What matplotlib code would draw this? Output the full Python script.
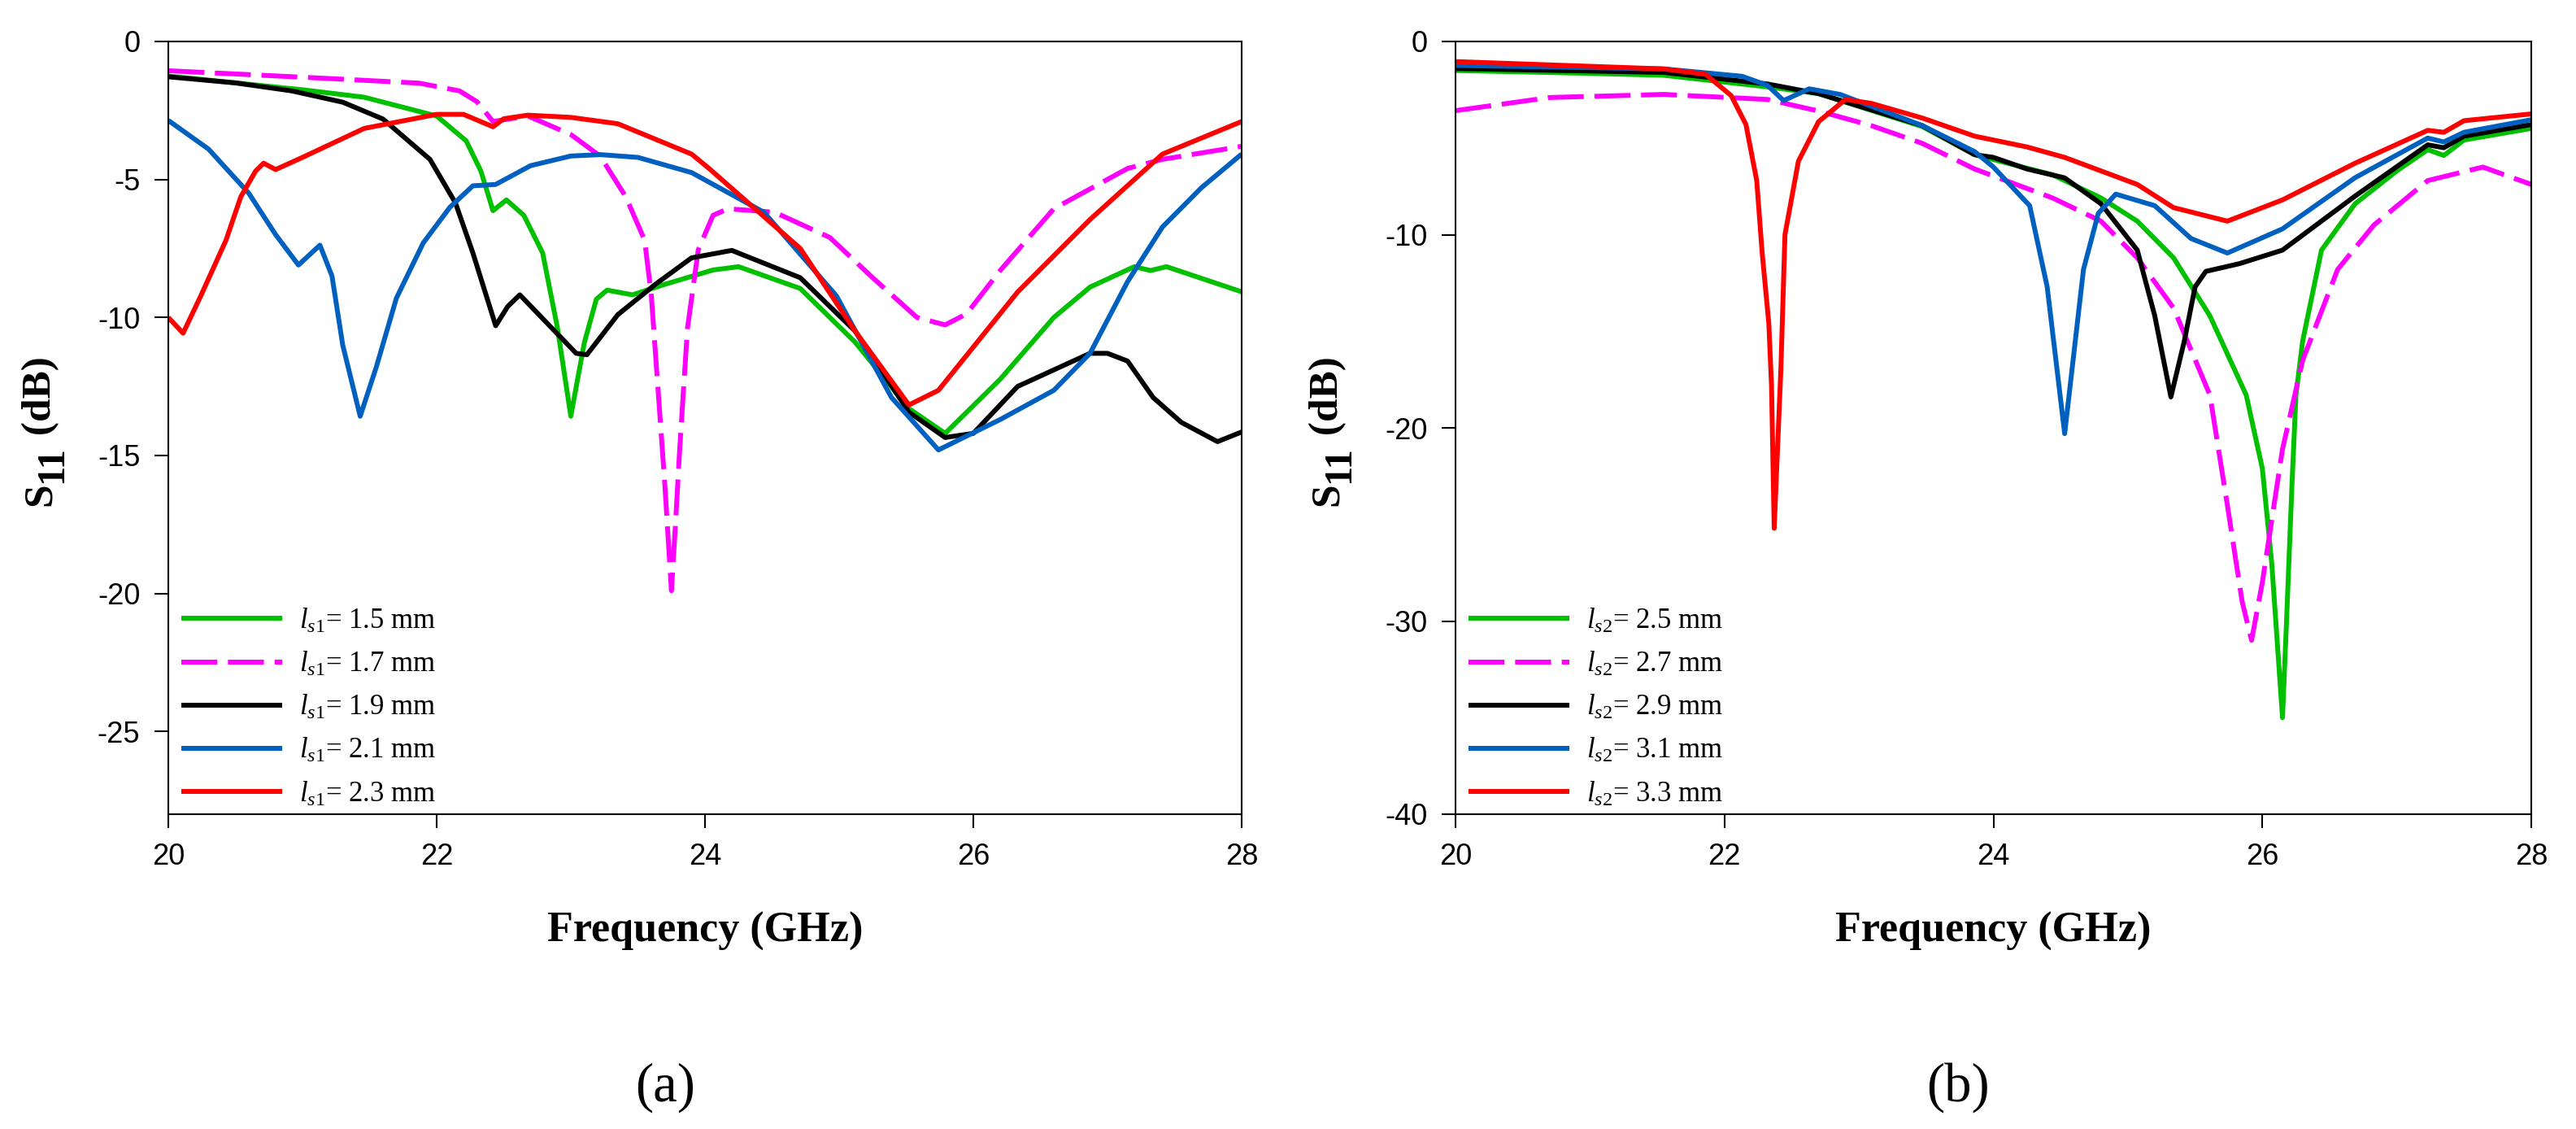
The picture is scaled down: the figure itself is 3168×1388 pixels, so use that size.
import numpy as np
import matplotlib
matplotlib.use('Agg')
import matplotlib.pyplot as plt

plt.rcParams['font.family'] = 'Liberation Serif'
plt.rcParams['mathtext.fontset'] = 'custom'
plt.rcParams['mathtext.rm'] = 'Liberation Serif'
plt.rcParams['mathtext.it'] = 'Liberation Serif:italic'
plt.rcParams['mathtext.bf'] = 'Liberation Serif:bold'
plt.rcParams['axes.unicode_minus'] = False

# ---------------- panel (a): l_s1 sweep ----------------
fa_15 = [20.0, 20.5, 21.0, 21.46, 22.0, 22.22, 22.33, 22.42, 22.52, 22.65, 22.79, 22.9, 23.0, 23.1,
         23.19, 23.27, 23.46, 23.7, 24.06, 24.25, 24.71, 25.12, 25.52, 25.79, 26.2, 26.6, 26.87,
         27.2, 27.32, 27.44, 28.0]
sa_15 = [-1.25, -1.5, -1.75, -2.02, -2.7, -3.6, -4.7, -6.13, -5.74, -6.3, -7.66, -10.37, -13.58, -10.93,
         -9.34, -9.01, -9.18, -8.8, -8.28, -8.16, -8.95, -10.9, -13.3, -14.2, -12.24, -10.0, -8.9,
         -8.16, -8.3, -8.16, -9.07]

fa_17 = [20.0, 20.6, 21.19, 21.87, 22.17, 22.3, 22.42, 22.55, 22.68, 23.0, 23.22, 23.41, 23.55, 23.6,
         23.65, 23.7, 23.75, 23.78, 23.81, 23.84, 23.87, 23.95, 24.06, 24.17, 24.52, 24.93, 25.25,
         25.58, 25.79, 25.95, 26.2, 26.6, 27.15, 27.41, 28.0]
sa_17 = [-1.06, -1.2, -1.34, -1.51, -1.79, -2.18, -2.9, -2.8, -2.7, -3.37, -4.16, -5.63, -7.2, -9.2,
         -12.6, -16.0, -19.9, -17.5, -14.9, -12.6, -10.37, -7.55, -6.3, -6.06, -6.19, -7.1, -8.56,
         -10.0, -10.27, -9.87, -8.3, -6.06, -4.6, -4.27, -3.8]

fa_19 = [20.0, 20.5, 20.92, 21.3, 21.6, 21.95, 22.14, 22.27, 22.44, 22.53, 22.62, 22.81, 23.04, 23.12,
         23.35, 23.63, 23.9, 24.2, 24.71, 25.12, 25.52, 25.79, 26.0, 26.33, 26.87, 27.0, 27.15,
         27.34, 27.55, 27.82, 28.0]
sa_19 = [-1.28, -1.5, -1.79, -2.2, -2.81, -4.27, -5.85, -7.66, -10.3, -9.6, -9.18, -10.14, -11.3, -11.35,
         -9.9, -8.8, -7.84, -7.57, -8.56, -10.5, -13.43, -14.35, -14.2, -12.5, -11.3, -11.3, -11.58,
         -12.9, -13.8, -14.5, -14.15]

fa_21 = [20.0, 20.3, 20.6, 20.8, 20.97, 21.13, 21.22, 21.3, 21.43, 21.55, 21.7, 21.9, 22.1, 22.27,
         22.44, 22.7, 23.0, 23.22, 23.5, 23.9, 24.44, 24.98, 25.39, 25.74, 26.2, 26.6, 26.87, 27.15,
         27.41, 27.7, 28.0]
sa_21 = [-2.86, -3.9, -5.5, -7.0, -8.1, -7.38, -8.5, -11.0, -13.58, -11.8, -9.3, -7.3, -6.0, -5.23,
         -5.18, -4.5, -4.15, -4.1, -4.2, -4.75, -6.19, -9.22, -12.9, -14.8, -13.7, -12.64, -11.3, -8.7,
         -6.72, -5.3, -4.08]

fa_23 = [20.0, 20.11, 20.24, 20.43, 20.54, 20.65, 20.71, 20.8, 21.0, 21.46, 22.0, 22.2, 22.42, 22.5,
         22.68, 23.0, 23.35, 23.9, 24.03, 24.71, 25.12, 25.52, 25.74, 26.33, 26.87, 27.41, 28.0]
sa_23 = [-10.0, -10.57, -9.24, -7.2, -5.63, -4.7, -4.41, -4.64, -4.2, -3.15, -2.64, -2.64, -3.09, -2.8,
         -2.67, -2.75, -2.98, -4.08, -4.6, -7.5, -10.5, -13.17, -12.64, -9.08, -6.45, -4.08, -2.9]

# ---------------- panel (b): l_s2 sweep ----------------
fb_25 = [20.0, 21.0, 21.55, 22.32, 22.7, 23.47, 23.86, 24.44, 24.8, 25.07, 25.34, 25.61, 25.88, 26.0,
         26.07, 26.12, 26.15, 26.18, 26.22, 26.25, 26.3, 26.44, 26.69, 27.0, 27.23, 27.35, 27.5, 28.0]
sb_25 = [-1.5, -1.65, -1.75, -2.35, -2.7, -4.4, -5.86, -6.9, -8.1, -9.3, -11.2, -14.2, -18.3, -22.1,
         -27.0, -32.0, -35.0, -30.0, -23.0, -18.3, -15.5, -10.8, -8.4, -6.7, -5.6, -5.9, -5.1, -4.5]

fb_27 = [20.0, 20.7, 21.55, 22.32, 22.7, 23.09, 23.47, 23.86, 24.44, 24.8, 25.07, 25.34, 25.61, 25.74,
         25.85, 25.92, 26.0, 26.15, 26.3, 26.56, 26.83, 27.23, 27.64, 28.0]
sb_27 = [-3.58, -2.9, -2.74, -3.0, -3.6, -4.35, -5.27, -6.6, -8.1, -9.3, -11.2, -13.8, -18.3, -24.0,
         -29.0, -31.0, -28.0, -21.1, -16.5, -11.8, -9.5, -7.2, -6.5, -7.4]

fb_29 = [20.0, 21.55, 22.32, 22.7, 23.47, 23.86, 24.0, 24.25, 24.53, 24.8, 25.07, 25.2, 25.32, 25.42,
         25.5, 25.58, 25.83, 26.15, 26.69, 27.23, 27.35, 27.5, 28.0]
sb_29 = [-1.4, -1.6, -2.2, -2.7, -4.35, -5.86, -6.0, -6.6, -7.06, -8.4, -10.8, -14.2, -18.4, -15.5,
         -12.7, -11.9, -11.5, -10.8, -8.0, -5.35, -5.5, -4.9, -4.3]

fb_31 = [20.0, 21.55, 22.13, 22.32, 22.44, 22.63, 22.86, 23.47, 23.86, 24.0, 24.27, 24.4, 24.53, 24.67,
         24.78, 24.91, 25.2, 25.47, 25.74, 26.15, 26.69, 27.23, 27.35, 27.5, 28.0]
sb_31 = [-1.24, -1.42, -1.8, -2.27, -3.06, -2.45, -2.74, -4.35, -5.7, -6.5, -8.5, -12.7, -20.3, -11.8,
         -8.9, -7.9, -8.5, -10.2, -10.95, -9.7, -7.05, -5.0, -5.2, -4.7, -4.05]

fb_33 = [20.0, 21.55, 21.86, 22.05, 22.16, 22.24, 22.28, 22.33, 22.35, 22.37, 22.42, 22.45, 22.55, 22.7,
         22.9, 23.09, 23.47, 23.86, 24.25, 24.53, 25.07, 25.34, 25.74, 26.15, 26.69, 27.23, 27.35,
         27.5, 28.0]
sb_33 = [-1.04, -1.42, -1.7, -2.8, -4.3, -7.2, -10.9, -14.6, -17.8, -25.2, -16.9, -10.0, -6.2, -4.15,
         -3.0, -3.2, -3.96, -4.9, -5.46, -6.0, -7.4, -8.6, -9.3, -8.2, -6.3, -4.6, -4.7, -4.1, -3.75]

colors = ['#00c000', '#ff00ff', '#000000', '#0060c0', '#ff0000']
labels_a = ['1.5', '1.7', '1.9', '2.1', '2.3']
labels_b = ['2.5', '2.7', '2.9', '3.1', '3.3']

W, H = 3168, 1388
fig = plt.figure(figsize=(W / 100, H / 100), dpi=100)

axa = fig.add_axes([207 / W, 1 - 1001 / H, 1320 / W, 950 / H])
axb = fig.add_axes([1790 / W, 1 - 1001 / H, 1323 / W, 950 / H])
renderer = fig.canvas.get_renderer()


def s11_label(x_base, y_start):
    # rotated "S11 (dB)" with a full-size, lowered subscript; positions in pixels
    kw = dict(rotation=90, rotation_mode='anchor', ha='left', va='baseline',
              fontsize=37, fontweight='bold')
    t = fig.text(x_base / W, y_start / H, 'S', **kw)
    y = y_start + t.get_window_extent(renderer).height
    t = fig.text((x_base + 14) / W, y / H, '11', **dict(kw, fontsize=35))
    y = y + t.get_window_extent(renderer).height
    fig.text(x_base / W, y / H, ' (dB)', **kw)


def draw(ax, freqs, vals, labs, sub, ylo, yticks, cap, capx, xoff):
    for i in range(5):
        kw = dict(color=colors[i], lw=4.3, solid_capstyle='butt')
        if i == 1:
            kw['dashes'] = (7.4, 2.2)
            kw['dash_capstyle'] = 'butt'
        ax.plot(freqs[i], vals[i], label=r'$l_{\mathit{' + sub + r'}}$= ' + labs[i] + ' mm', **kw)
    ax.set_xlim(20, 28)
    ax.set_ylim(ylo, 0)
    ax.set_xticks([20, 22, 24, 26, 28])
    ax.set_yticks(yticks)
    for lab in ax.get_xticklabels() + ax.get_yticklabels():
        lab.set_fontfamily('Liberation Sans')
        lab.set_fontsize(26)
    ax.tick_params(direction='out', length=12, width=1.5, pad=13, top=False, right=False)
    for sp in ax.spines.values():
        sp.set_linewidth(1.5)
    ax.set_xlabel('Frequency (GHz)', fontsize=37.5, fontweight='bold', labelpad=36)
    s11_label(62 + xoff, H - 622)
    ax.legend(loc='lower left', bbox_to_anchor=(0.012, 0.008), frameon=False, fontsize=25,
              handlelength=3.57, handletextpad=0.6, labelspacing=0.55, borderpad=0,
              borderaxespad=0)
    fig.text(capx / W, 1 - 1337 / H, cap, fontsize=48, ha='center', va='center')


draw(axa, [fa_15, fa_17, fa_19, fa_21, fa_23], [sa_15, sa_17, sa_19, sa_21, sa_23],
     labels_a, 's1', -28, [0, -5, -10, -15, -20, -25], '(a)', 818, 0)
draw(axb, [fb_25, fb_27, fb_29, fb_31, fb_33], [sb_25, sb_27, sb_29, sb_31, sb_33],
     labels_b, 's2', -40, [0, -10, -20, -30, -40], '(b)', 2408, 1583)

fig.savefig('out.png', dpi=100)
